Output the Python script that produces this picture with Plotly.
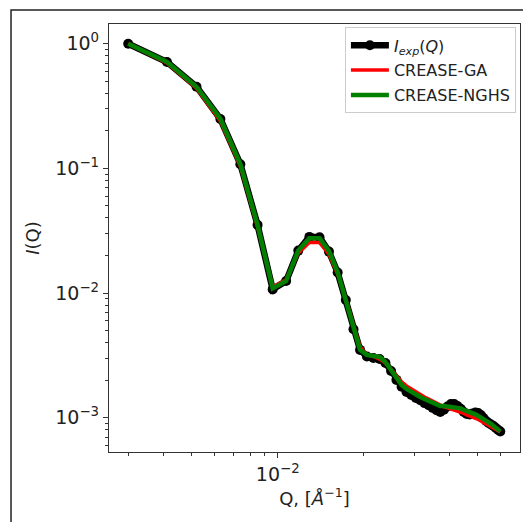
import plotly.graph_objects as go

# Q values [1/Angstrom]
q = [0.0030, 0.0041, 0.0052, 0.0063, 0.0074, 0.0085, 0.0096, 0.0107, 0.0118, 0.0129,
     0.0140, 0.0151, 0.0162, 0.0173, 0.0184, 0.0194, 0.0205, 0.0216, 0.0227, 0.0238,
     0.0249, 0.0260, 0.0271, 0.0282, 0.0293, 0.0304, 0.0315, 0.0326, 0.0337, 0.0348,
     0.0359, 0.0370, 0.0381, 0.0392, 0.0403, 0.0414, 0.0425, 0.0436, 0.0447, 0.0458,
     0.0469, 0.0480, 0.0491, 0.0502, 0.0513, 0.0524, 0.0535, 0.0546, 0.0557, 0.0568,
     0.0579, 0.0590, 0.0600]

i_exp = [1.0, 0.713, 0.452, 0.249, 0.108, 0.0352, 0.0107, 0.0125, 0.0219, 0.0282,
         0.0280, 0.0215, 0.0146, 0.0088, 0.00513, 0.0035, 0.0031, 0.00301, 0.00296, 0.00275,
         0.00237, 0.00201, 0.00177, 0.00161, 0.00152, 0.00144, 0.00138, 0.00131, 0.00126, 0.00120,
         0.00115, 0.00111, 0.00116, 0.00123, 0.00129, 0.00129, 0.00124, 0.00118, 0.00111, 0.00107,
         0.00106, 0.00108, 0.00110, 0.00109, 0.00105, 0.000996, 0.000942, 0.000908, 0.000883, 0.000859,
         0.000828, 0.000798, 0.000776]

crease_ga = [1.0, 0.70, 0.44, 0.24, 0.104, 0.034, 0.0112, 0.0128, 0.0210, 0.0255,
             0.0254, 0.0205, 0.0142, 0.0090, 0.0055, 0.0037, 0.0032, 0.0031, 0.00295, 0.00275,
             0.00245, 0.002163, 0.001936, 0.001799, 0.001700, 0.001609, 0.001538, 0.001467, 0.001414, 0.001363,
             0.001301, 0.001255, 0.001221, 0.001199, 0.001177, 0.001155, 0.001134, 0.001113, 0.001083, 0.001053,
             0.001034, 0.001015, 0.000996, 0.000969, 0.000943, 0.000917, 0.000892, 0.000876, 0.000852, 0.000829,
             0.000806, 0.000784, 0.000769]

crease_nghs = [1.0, 0.713, 0.452, 0.250, 0.108, 0.0352, 0.0109, 0.0125, 0.0220, 0.0275,
               0.0275, 0.0218, 0.0147, 0.0089, 0.0052, 0.0035, 0.003189, 0.003130, 0.003072, 0.002802,
               0.002417, 0.002085, 0.001835, 0.001700, 0.001609, 0.001522, 0.001467, 0.001414, 0.001363, 0.001313,
               0.001265, 0.001242, 0.001242, 0.001231, 0.001221, 0.001221, 0.001210, 0.001188, 0.001155, 0.001134,
               0.001113, 0.001093, 0.001063, 0.001034, 0.001006, 0.000978, 0.000952, 0.000925, 0.000892, 0.000860,
               0.000829, 0.000799, 0.000777]

x_major = [0.01]
x_major_text = ["10<sup>\u22122</sup>"]
x_minor = [0.003, 0.004, 0.005, 0.006, 0.007, 0.008, 0.009, 0.02, 0.03, 0.04, 0.05, 0.06]
y_major = [1, 0.1, 0.01, 0.001]
y_major_text = ["10<sup>0</sup>", "10<sup>\u22121</sup>", "10<sup>\u22122</sup>", "10<sup>\u22123</sup>"]
y_minor = [m * 10.0 ** e for e in (-4, -3, -2, -1, 0) for m in range(2, 10)]

FONT = "DejaVu Sans"

fig = go.Figure()
fig.add_trace(go.Scatter(x=q, y=i_exp, mode="lines+markers",
                         name="<i>I</i><sub><i>exp</i></sub>(<i>Q</i>)", legendgroup="a",
                         line=dict(color="black", width=6.5),
                         marker=dict(color="black", size=10)))
fig.add_trace(go.Scatter(x=q, y=crease_ga, mode="lines", name="CREASE-GA", legendgroup="b",
                         line=dict(color="#ff0000", width=3.5)))
fig.add_trace(go.Scatter(x=q, y=crease_nghs, mode="lines", name="CREASE-NGHS", legendgroup="c",
                         line=dict(color="#008000", width=4.5)))

axis_common = dict(showline=True, linecolor="#333", linewidth=1.3, mirror=True,
                   showgrid=False, zeroline=False, ticks="outside", tickcolor="#333",
                   automargin=False,
                   tickfont=dict(family=FONT, size=19, color="#222"))

fig.update_xaxes(type="log", range=[-2.590, -1.153],
                 tickvals=x_major, ticktext=x_major_text, ticklen=5, tickwidth=1.2,
                 minor=dict(ticks="outside", tickvals=x_minor, ticklen=3, tickwidth=1, tickcolor="#333"),
                 title=dict(text="Q, [<i>Å</i><sup>\u22121</sup>]", font=dict(family=FONT, size=18, color="#222"),
                            standoff=4),
                 **axis_common)
fig.update_yaxes(type="log", range=[-3.275, 0.158],
                 tickvals=y_major, ticktext=y_major_text, ticklen=5, tickwidth=1.2,
                 minor=dict(ticks="outside", tickvals=y_minor, ticklen=3, tickwidth=1, tickcolor="#333"),
                 title=dict(text="<i>I</i>(Q)", font=dict(family=FONT, size=18, color="#222"), standoff=10),
                 **axis_common)

fig.add_shape(type="rect", xref="paper", yref="paper",
              x0=-0.2384, y0=-0.3, x1=1.1, y1=1.0327,
              line=dict(color="#222", width=1.5), fillcolor="rgba(0,0,0,0)", layer="below")

fig.update_layout(
    width=523, height=522,
    margin=dict(l=109, r=3, t=24, b=70),
    paper_bgcolor="white", plot_bgcolor="white",
    showlegend=True,
    legend=dict(x=0.574, y=0.992, xanchor="left", yanchor="top",
                bgcolor="rgba(255,255,255,0.8)", bordercolor="#ccc", borderwidth=1,
                font=dict(family=FONT, size=16, color="#222"),
                itemwidth=38, tracegroupgap=1),
)

fig.write_html("out.html", config={"displayModeBar": False},
               post_script="document.body.style.margin='0';")
